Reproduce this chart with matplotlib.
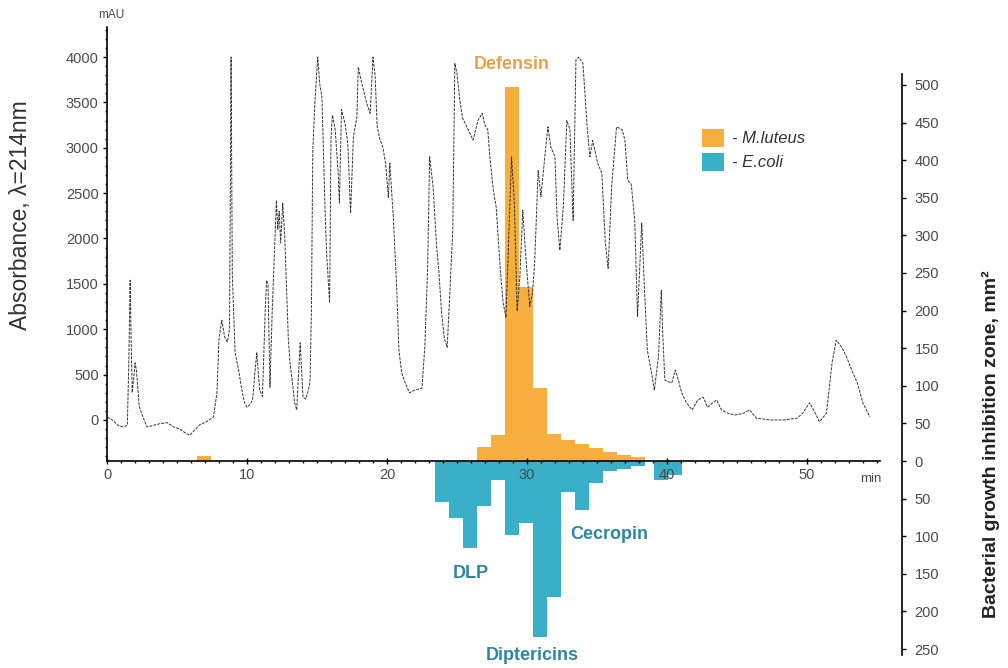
"""
RP-HPLC profile of hemolymph extract with antibacterial activity of the
collected fractions (M. luteus up, E. coli down) on a secondary axis.
"""

import matplotlib
matplotlib.use("Agg")
import matplotlib.pyplot as plt
import numpy as np
from matplotlib.patches import Patch
from matplotlib.ticker import FixedLocator, FuncFormatter

# ── data ────────────────────────────────────────────────────────────────────

# chromatogram, retention time (min) vs absorbance (mAU)
TIME_MIN = [
    0.0, 0.3, 0.8, 1.15, 1.45, 1.55, 1.65, 1.72, 1.8, 1.9, 2.0, 2.1, 2.3, 2.5,
    2.85, 3.3, 3.8, 4.3, 4.8, 5.2, 5.6, 5.9, 6.2, 6.6, 7.1, 7.6, 7.85, 8.0,
    8.2, 8.4, 8.6, 8.75, 8.86, 8.95, 9.05, 9.15, 9.4, 9.6, 9.8, 10.0, 10.2,
    10.4, 10.55, 10.7, 10.9, 11.1, 11.3, 11.4, 11.5, 11.64, 11.8, 11.95, 12.1,
    12.2, 12.3, 12.4, 12.55, 12.7, 12.85, 12.95, 13.07, 13.25, 13.4, 13.55,
    13.8, 14.0, 14.2, 14.35, 14.5, 14.6, 14.7, 14.85, 15.05, 15.2, 15.35,
    15.45, 15.6, 15.7, 15.9, 16.0, 16.1, 16.3, 16.5, 16.6, 16.75, 17.0, 17.2,
    17.4, 17.6, 17.85, 17.95, 18.2, 18.55, 18.8, 19.0, 19.15, 19.3, 19.5,
    19.7, 19.9, 20.1, 20.2, 20.45, 20.7, 20.85, 21.05, 21.3, 21.6, 22.0, 22.5,
    22.7, 22.9, 23.05, 23.3, 23.55, 23.7, 23.9, 24.1, 24.3, 24.5, 24.7, 24.85,
    25.0, 25.2, 25.4, 25.8, 26.15, 26.5, 26.8, 27.0, 27.2, 27.35, 27.6, 27.8,
    28.1, 28.3, 28.5, 28.7, 28.9, 29.1, 29.3, 29.5, 29.7, 29.95, 30.2, 30.4,
    30.55, 30.8, 31.0, 31.3, 31.5, 31.7, 32.0, 32.15, 32.35, 32.6, 32.85,
    33.07, 33.3, 33.5, 33.7, 34.0, 34.3, 34.5, 34.7, 35.05, 35.35, 35.6, 35.8,
    36.05, 36.4, 36.8, 37.0, 37.2, 37.45, 37.7, 37.9, 38.2, 38.4, 38.6, 38.9,
    39.1, 39.4, 39.6, 39.7, 39.85, 40.1, 40.35, 40.6, 40.8, 41.05, 41.4, 41.8,
    42.2, 42.6, 42.9, 43.2, 43.55, 43.9, 44.35, 44.85, 45.4, 45.9, 46.4, 47.4,
    48.3, 49.3, 49.7, 50.2, 50.6, 50.9, 51.4, 51.8, 52.1, 52.5, 52.85, 53.2,
    53.6, 54.0, 54.5,
]
ABS_MAU = [
    30, 10, -60, -77, -60, 600, 1540, 900, 300, 450, 630, 550, 150, 60,
    -77, -60, -40, -30, -80, -100, -143, -170, -120, -55, -20, 33, 300, 900,
    1100, 915, 860, 1000, 4000, 1600, 1180, 740, 550, 360, 200, 140, 170,
    220, 500, 740, 330, 260, 1200, 1540, 1500, 360, 1200, 1800, 2420,
    2100, 2300, 1950, 2390, 2000, 1360, 900, 630, 400, 190, 110,
    850, 250, 230, 310, 420, 1200, 2975, 3500, 4000, 3700, 3560,
    3010, 2200, 1800, 1290, 3100, 3360, 3200, 2750, 2390, 3420, 3270, 3050,
    2280, 3120, 3340, 3890, 3710, 3490, 3380, 4000, 3800, 3230, 3090,
    3010, 2830, 2450, 2830, 2240, 1430, 770, 520, 410, 300, 330, 350,
    800, 1650, 2900, 2560, 1900, 1650, 1180, 900, 800, 1430, 2090, 3930,
    3820, 3530, 3330, 3200, 3085, 3300, 3380, 3250, 3200, 2900, 2530, 2350,
    1650, 1290, 1130, 2000, 2900, 2390, 1200, 1600, 2310, 1730, 1250, 1400,
    1730, 2750, 2460, 2940, 3230, 3010, 2900, 2240, 1870, 2350, 3300,
    3200, 2200, 3970, 4000, 3930, 3230, 2900, 3080, 2830, 2720, 1950, 1670,
    2570, 3230, 3200, 3085, 2640, 2600, 2200, 1140, 2170, 1430, 770, 520,
    330, 700, 1430, 960, 440, 420, 410, 550, 450, 300, 190, 110,
    220, 250, 140, 180, 220, 110, 75, 55, 70, 110, 20, 0,
    0, 20, 75, 190, 75, -20, 75, 630, 880, 800, 690, 550,
    410, 190, 33,
]

# 1-min fractions: start time (min) and inhibition zone (mm²)
M_LUTEUS_START = [6.4, 26.4, 27.4, 28.4, 29.4, 30.4, 31.4, 32.4, 33.4, 34.4,
                  35.4, 36.4, 37.4]
M_LUTEUS_ZONE = [7, 19, 35, 497, 231, 97, 36, 28, 22, 17, 12, 8, 5]

E_COLI_START = [23.4, 24.4, 25.4, 26.4, 27.4, 28.4, 29.4, 30.4, 31.4, 32.4,
                33.4, 34.4, 35.4, 36.4, 37.4, 39.1, 40.1]
E_COLI_ZONE = [54, 76, 116, 60, 25, 98, 83, 234, 181, 41, 65, 29, 13, 10, 7,
               25, 18]

PEPTIDES = ["Defensin", "DLP", "Cecropin", "Diptericins"]

ORANGE = "#F6AE3C"
BLUE = "#3AAFC8"
TICK_GREY = "#4a4a4a"

plt.rcParams["font.family"] = ["Liberation Sans", "DejaVu Sans"]

# ── figure ──────────────────────────────────────────────────────────────────

fig = plt.figure(figsize=(10.08, 6.68), dpi=100)
ax = fig.add_axes([0.1062, 0.012, 0.7887, 0.9506])
ax2 = ax.twinx()

# line axes on top of the bar axes so the trace and x labels overlay the bars
ax.set_zorder(2)
ax.patch.set_visible(False)
ax2.set_zorder(1)

ax.set_xlim(0, 56.8)
ax.set_ylim(-2645, 4353)
ax2.set_ylim(-264.6, 579.8)
x_axis_mau = -452   # the time axis sits at zone = 0

# bars: activity of fractions
ax2.bar(M_LUTEUS_START, M_LUTEUS_ZONE, width=1.0, align="edge",
        color=ORANGE, linewidth=0)
ax2.bar(E_COLI_START, -np.array(E_COLI_ZONE), width=1.0, align="edge",
        color=BLUE, linewidth=0)

# chromatogram
ax.plot(TIME_MIN, ABS_MAU, color="#333333", lw=0.7, dashes=(3, 1.2))

# ── axes styling ────────────────────────────────────────────────────────────

for s in ("top", "right"):
    ax.spines[s].set_visible(False)
for s in ("top", "left", "bottom"):
    ax2.spines[s].set_visible(False)

ax.spines["left"].set_bounds(x_axis_mau, 4330)
ax.spines["bottom"].set_position(("data", x_axis_mau))
ax.spines["bottom"].set_bounds(0, 55.2)
ax2.spines["right"].set_bounds(-258, 515)
for sp in (ax.spines["left"], ax.spines["bottom"], ax2.spines["right"]):
    sp.set_linewidth(1.2)

ax.set_yticks(np.arange(0, 4001, 500))
ax.yaxis.set_minor_locator(FixedLocator(np.arange(-400, 4301, 100)))
ax.set_xticks(np.arange(0, 51, 10))
ax.xaxis.set_minor_locator(FixedLocator(np.arange(0, 56, 1)))
ax2.set_yticks(np.arange(-250, 501, 50))
ax2.yaxis.set_major_formatter(FuncFormatter(lambda v, _: f"{abs(v):.0f}"))

ax.tick_params(axis="both", which="major", length=3, width=1,
               labelsize=10.5, labelcolor=TICK_GREY, pad=3)
ax.tick_params(axis="both", which="minor", length=1.5, width=1)
ax.tick_params(axis="x", direction="inout", length=4)
ax2.tick_params(axis="y", length=3, width=1, labelsize=10.5,
                labelcolor=TICK_GREY, pad=6)

ax.set_ylabel("Absorbance, λ=214nm", fontsize=16.5, color="#333333",
              labelpad=6)
ax.yaxis.set_label_coords(-0.095, 0.7)
ax2.set_ylabel("Bacterial growth inhibition zone, mm²", fontsize=14,
               fontweight="bold", color="#222222", labelpad=14)
ax2.yaxis.set_label_coords(1.1, 0.34)

ax.text(-0.6, 4460, "mAU", fontsize=8.5, color=TICK_GREY, ha="left",
        va="center", clip_on=False)
ax.text(54.6, -650, "min", fontsize=9.5, color=TICK_GREY, ha="center",
        va="center")

# ── peptide labels ──────────────────────────────────────────────────────────

label_style = dict(fontsize=13, fontweight="bold", ha="center", va="center")
ax2.text(28.9, 527, PEPTIDES[0], color="#E3A24C", **label_style)
ax2.text(26.0, -150, PEPTIDES[1], color="#2E86A0", **label_style)
ax2.text(35.9, -98, PEPTIDES[2], color="#2E86A0", **label_style)
ax2.text(30.4, -258, PEPTIDES[3], color="#2E86A0", **label_style)

handles = [Patch(facecolor=ORANGE, edgecolor="none"),
           Patch(facecolor=BLUE, edgecolor="none")]
fig.legend(handles, ["- M.luteus", "- E.coli"], loc="upper left",
           bbox_to_anchor=(0.682, 0.83), frameon=False, handlelength=1.3,
           handleheight=1.3, handletextpad=0.5, labelspacing=0.35,
           prop={"size": 12, "style": "italic"}, labelcolor="#333333")

fig.savefig("out.png", dpi=100)
